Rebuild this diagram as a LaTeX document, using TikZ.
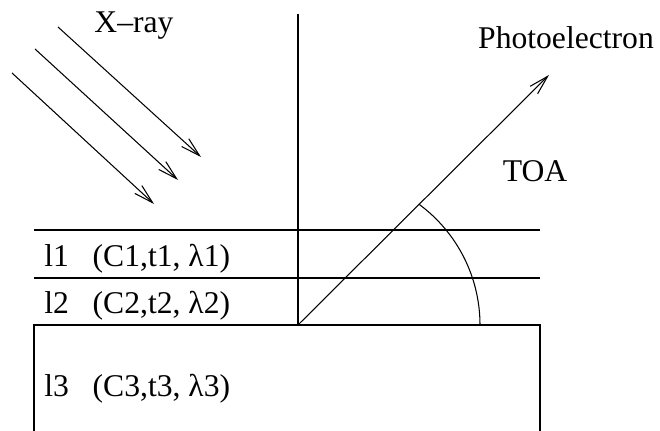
\documentclass[tikz,border=0pt]{standalone}
\usepackage{fontspec}
\setmainfont{Liberation Serif}
\usetikzlibrary{arrows.meta}

\begin{document}
\begin{tikzpicture}[
  x=0.02cm, y=0.02cm,
  >={Straight Barb[length=11pt,width=6pt]},
  lbl/.style={font=\fontsize{18}{21}\selectfont, inner sep=0pt, anchor=base},
  layer/.style={lbl, anchor=base west},
  ln/.style={line width=0.6pt},
  frame/.style={line width=0.75pt},
]
\useasboundingbox (0,0) rectangle (660,431);
\coordinate (o) at (298,106);
\coordinate (top) at (298,417);
\coordinate (pe) at (549,356);
\coordinate (r1s) at (58,404);
\coordinate (r1e) at (201,274);
\coordinate (r2s) at (35,382);
\coordinate (r2e) at (178,251);
\coordinate (r3s) at (12,358);
\coordinate (r3e) at (154,227);

\node[lbl] (xray) at (134,398) {X–ray};
\node[lbl] (photo) at (566,382) {Photoelectron};
\node[lbl] (toa) at (535,249) {TOA};
\node[layer] (l1) at (44,164) {l1\hspace{0.75em}(C1,t1, λ1)};
\node[layer] (l2) at (44,117) {l2\hspace{0.75em}(C2,t2, λ2)};
\node[layer] (l3) at (44,34) {l3\hspace{0.75em}(C3,t3, λ3)};

\draw[frame] (top) -- (o);
\draw[frame] (34,0) -- (34,106) -- (540,106) -- (540,0);
\draw[ln] (34,201) -- (540,201);
\draw[ln] (34,153) -- (540,153);
\draw[ln,->] (r1s) -- (r1e);
\draw[ln,->] (r2s) -- (r2e);
\draw[ln,->] (r3s) -- (r3e);
\draw[ln,->] (o) -- (pe);
\draw[ln] (480,106) arc[start angle=0, end angle=53.5, radius=150];
\end{tikzpicture}
\end{document}
